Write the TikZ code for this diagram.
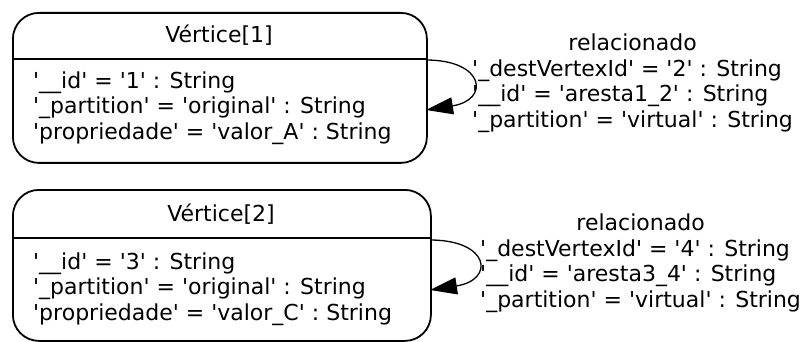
\documentclass[tikz,border=0pt]{standalone}
\usepackage{fontspec}
\setmainfont{DejaVu Sans}
\usetikzlibrary{arrows.meta}
\newcommand\sq{\textquotesingle}
\begin{document}
\begin{tikzpicture}[x=1pt,y=-1pt,
  recbox/.style={draw, line width=1.8pt, rounded corners=26pt, anchor=north west, inner sep=0pt},
  txt/.style={font=\fontsize{22}{25.5}\selectfont, inner sep=0pt},
  fields/.style={txt, align=left, anchor=west},
  elabel/.style={txt, anchor=west},
  sepline/.style={line width=1.8pt},
  loop/.style={line width=1.3pt, -{Triangle[length=27pt,width=17pt]}}]
\useasboundingbox (0,0) rectangle (806,342);

% vertex 1
\node[recbox, minimum width=414pt, minimum height=150pt] (v1) at (12,12) {};
\coordinate (v1sl) at (12,59);
\coordinate (v1sr) at (426,59);
\draw[sepline] (v1sl) -- (v1sr);
\node[txt] (v1t) at (219,35) {Vértice[1]};
\node[fields] (v1f) at (33,108) {\sq\_\_id\sq{} = \sq1\sq{} : String\\\sq\_partition\sq{} = \sq original\sq{} : String\\\sq propriedade\sq{} = \sq valor\_A\sq{} : String};

% vertex 2
\node[recbox, minimum width=418pt, minimum height=151pt] (v2) at (12,189) {};
\coordinate (v2sl) at (12,238);
\coordinate (v2sr) at (430,238);
\draw[sepline] (v2sl) -- (v2sr);
\node[txt] (v2t) at (221,214) {Vértice[2]};
\node[fields] (v2f) at (33,289) {\sq\_\_id\sq{} = \sq3\sq{} : String\\\sq\_partition\sq{} = \sq original\sq{} : String\\\sq propriedade\sq{} = \sq valor\_C\sq{} : String};

% self loops with their labels
\coordinate (e1s) at (426,60);
\coordinate (e1e) at (426,110);
\draw[loop] (e1s) .. controls (485,60) and (490,100) .. (e1e);
\node[elabel] (e1l) at (472,84) {\begin{tabular}{@{}l@{}}\multicolumn{1}{@{}c@{}}{relacionado}\\\sq\_destVertexId\sq{} = \sq2\sq{} : String\\\sq\_\_id\sq{} = \sq aresta1\_2\sq{} : String\\\sq\_partition\sq{} = \sq virtual\sq{} : String\end{tabular}};

\coordinate (e2s) at (430,240);
\coordinate (e2e) at (430,290);
\draw[loop] (e2s) .. controls (490,240) and (495,280) .. (e2e);
\node[elabel] (e2l) at (480,264) {\begin{tabular}{@{}l@{}}\multicolumn{1}{@{}c@{}}{relacionado}\\\sq\_destVertexId\sq{} = \sq4\sq{} : String\\\sq\_\_id\sq{} = \sq aresta3\_4\sq{} : String\\\sq\_partition\sq{} = \sq virtual\sq{} : String\end{tabular}};
\end{tikzpicture}
\end{document}
